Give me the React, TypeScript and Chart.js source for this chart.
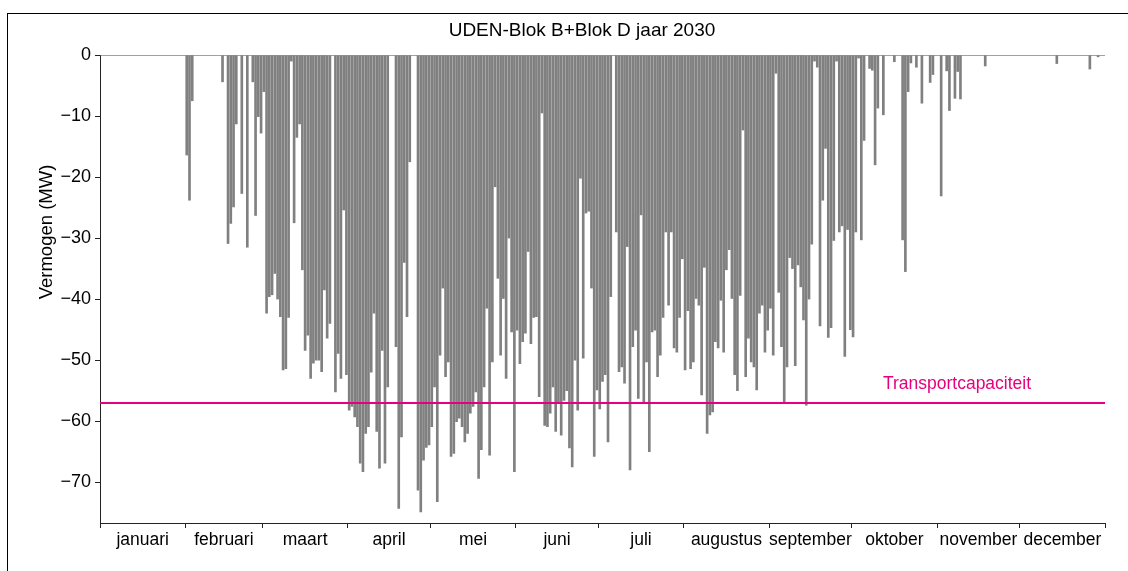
import React, { useEffect, useRef } from "react";
import { Chart, registerables } from "chart.js";

Chart.register(...registerables);

const TITLE = "UDEN-Blok B+Blok D jaar 2030";
const Y_LABEL = "Vermogen (MW)";
const TRANSPORT_LABEL = "Transportcapaciteit";
const TRANSPORT_CAPACITY = -57.05;

const MONTHS = ["januari", "februari", "maart", "april", "mei", "juni", "juli", "augustus", "september", "oktober", "november", "december"];
const MONTH_DAYS = [31, 28, 31, 30, 31, 30, 31, 31, 30, 31, 30, 31];

const Y_TICKS = [0, -10, -20, -30, -40, -50, -60, -70];
const Y_MIN = -76.7;
const Y_MAX = 0;

// Daily peak (most negative) power in MW
const januari = [0, 0, 0, 0, 0, 0, 0, 0, 0, 0, 0, 0, 0, 0, 0, 0, 0, 0, 0, 0, 0, 0, 0, 0, 0, 0, 0, 0, 0, 0, 0];
const februari = [-16.4, -23.8, -7.5, 0, 0, 0, 0, 0, 0, 0, 0, 0, 0, -4.4, 0, -30.9, -27.6, -24.9, -11.3, 0, -22.7, 0, -31.5, 0, -4.4, -26.3, -10.1, -12.8];
const maart = [-6, -42.3, -39.6, -39.3, -35.8, -40, -42.9, -51.6, -51.4, -43, -1, -27.5, -13.5, -11.3, -35.2, -48.4, -45.9, -53, -50.5, -50, -50, -51.9, -38.5, -46.4, -44, 0, -55.2, -48.9, -53, -25.4, -52.4];
const april = [-58.2, -57.6, -59.3, -60.9, -66.9, -68.3, -62, -60.9, -52, -42.3, -61.7, -67.7, -48.4, -66.9, -54.4, 0, 0, -47.8, -74.3, -62.6, -34, -42.9, -17.5, 0, 0, -71.3, -74.9, -66.4, -64.3, -63.9];
const mei = [-60.9, -54.4, -73.2, -49.2, -38.2, -52.7, -50.3, -65.8, -65.3, -60.1, -59.5, -60.9, -63.4, -62, -58.7, -57.6, -55.2, -69.4, -64.7, -54.4, -41.5, -65.6, -50.3, -21.6, -36.6, -49.2, -39.9, -53, -30, -45.4, -68.3];
const juni = [-45.1, -50.6, -47, -45.6, -32.2, -47.3, -43, -42.9, -56, -9.5, -60.7, -60.9, -58.7, -54.4, -61.7, -57.1, -62.3, -56.6, -55, -64.4, -67.5, -50, -58.2, -20.2, -49.7, -25.9, -25.6, -38.2, -65.8, -54.9];
const juli = [-58, -53.5, -52.4, -63.4, -39.6, 0, -29, -51.9, -51.1, -53.8, -31.4, -68, -47.8, -45.1, -56.3, -26.2, -56.8, -50.3, -65, -45.4, -45.1, -52.7, -49.2, -43, -29, -41, -29, -48, -48.7, -43, -33.4];
const augustus = [-51.6, -41.9, -51.4, -50.3, -39.9, -41, -55.7, -34.8, -62, -59, -58.5, -47, -48, -40.2, -48.7, -35.2, -31.9, -39.9, -52.4, -55, -39.4, -12.3, -52.7, -46.4, -50.3, -51.1, -54.9, -42.3, -41, -48.7, -45.1];
const september = [-41.5, -49.2, -3, -38.9, -47.8, -56.8, -51.1, -33.2, -35, -50.9, -34.4, -38, -43.4, -57.4, -40, -31, -1, -2, -44.4, -23.8, -15.3, -46.3, -44.7, -30.4, -1, -29, -28, -49.4, -28.6, -45];
const oktober = [-46.2, -29, -0.5, -30.3, -14, 0, -2.2, -2.5, -18, -8.7, 0, -9.8, 0, 0, 0, -1.1, 0, 0, -30.3, -35.5, -6, -1.3, 0, -2, 0, -7.9, 0, 0, -4.5, -3.2, 0];
const november = [0, -23.1, 0, -2.6, -9.1, 0, -7.1, -2.7, -7.2, 0, 0, 0, 0, 0, 0, 0, 0, -1.8, 0, 0, 0, 0, 0, 0, 0, 0, 0, 0, 0, 0];
const december = [0, 0, 0, 0, 0, 0, 0, 0, 0, 0, 0, 0, 0, -1.4, 0, 0, 0, 0, 0, 0, 0, 0, 0, 0, 0, -2.3, 0, 0, -0.3, 0, 0];

const MONTH_VALUES = [januari, februari, maart, april, mei, juni, juli, augustus, september, oktober, november, december];

const FONT = '"Liberation Sans", Arial, Helvetica, sans-serif';
const PINK = "#e6007e";
const BAR_GRAY = "#808080";
const AXIS_COLOR = "#222222";

export default function App() {
  const canvasRef = useRef<HTMLCanvasElement | null>(null);

  useEffect(() => {
    const canvas = canvasRef.current;
    if (!canvas) return;

    const daily: number[] = ([] as number[]).concat(...MONTH_VALUES);
    const points = daily.map((v, i) => ({ x: i + 0.5, y: v }));

    const boundaries: number[] = [0];
    MONTH_DAYS.forEach((d) => boundaries.push(boundaries[boundaries.length - 1] + d));
    const centers = MONTH_DAYS.map((d, i) => boundaries[i] + d / 2);
    const xTickValues = [...boundaries, ...centers].sort((a, b) => a - b);
    const isBoundary = (v: number) => boundaries.some((b) => Math.abs(b - v) < 1e-6);
    const labelFor = (v: number) => {
      const idx = centers.findIndex((c) => Math.abs(c - v) < 1e-6);
      return idx >= 0 ? MONTHS[idx] : "";
    };

    const overlay = {
      id: "overlay",
      afterDatasetsDraw(chart: any) {
        const { ctx, chartArea, scales } = chart;
        const yPix = scales.y.getPixelForValue(TRANSPORT_CAPACITY);
        ctx.save();
        ctx.strokeStyle = PINK;
        ctx.lineWidth = 2;
        ctx.beginPath();
        ctx.moveTo(chartArea.left, yPix);
        ctx.lineTo(chartArea.right, yPix);
        ctx.stroke();

        ctx.fillStyle = PINK;
        ctx.font = `17.5px ${FONT}`;
        ctx.textAlign = "center";
        ctx.textBaseline = "middle";
        ctx.fillText(TRANSPORT_LABEL, 957, yPix - 19);

        ctx.fillStyle = "#000";
        ctx.font = `19px ${FONT}`;
        ctx.fillText(TITLE, 582, 31);

        ctx.translate(47, 232);
        ctx.rotate(-Math.PI / 2);
        ctx.font = `18.5px ${FONT}`;
        ctx.fillText(Y_LABEL, 0, 0);
        ctx.restore();
      },
    };

    const chart = new Chart(canvas, {
      type: "bar",
      data: {
        datasets: [
          {
            data: points as any,
            backgroundColor: BAR_GRAY,
            borderWidth: 0,
            barThickness: 2,
          },
        ],
      },
      options: {
        animation: false,
        responsive: false,
        parsing: { xAxisKey: "x", yAxisKey: "y" } as any,
        layout: { padding: { top: 55, right: 23, left: 0, bottom: 0 } },
        plugins: {
          legend: { display: false },
          tooltip: { enabled: false },
          title: { display: false },
        },
        scales: {
          x: {
            type: "linear",
            min: 0,
            max: 365,
            offset: false,
            afterBuildTicks: (s: any) => {
              s.ticks = xTickValues.map((v) => ({ value: v }));
            },
            afterFit: (s: any) => {
              s.height = 48;
            },
            ticks: {
              autoSkip: false,
              maxRotation: 0,
              minRotation: 0,
              padding: 2,
              color: "#000",
              font: { family: FONT, size: 17.5 },
              callback: (v: any) => labelFor(Number(v)),
            },
            grid: {
              offset: false,
              drawOnChartArea: false,
              drawTicks: true,
              tickLength: 5,
              tickWidth: 1,
              color: "rgba(0,0,0,0)",
              tickColor: (ctx: any) => (ctx.tick && isBoundary(ctx.tick.value) ? AXIS_COLOR : "rgba(0,0,0,0)"),
            },
            border: { display: true, color: AXIS_COLOR, width: 1 },
          },
          y: {
            type: "linear",
            min: Y_MIN,
            max: Y_MAX,
            afterBuildTicks: (s: any) => {
              s.ticks = Y_TICKS.map((v) => ({ value: v }));
            },
            afterFit: (s: any) => {
              s.width = 100;
            },
            ticks: {
              padding: 4,
              color: "#000",
              font: { family: FONT, size: 18 },
              callback: (v: any) => {
                const n = Number(v);
                return n < 0 ? "\u2212" + Math.abs(n) : String(n);
              },
            },
            grid: {
              drawOnChartArea: true,
              drawTicks: true,
              tickLength: 5,
              color: (ctx: any) => (ctx.tick && ctx.tick.value === 0 ? "#b0b0b0" : "rgba(0,0,0,0)"),
              tickColor: AXIS_COLOR,
            },
            border: { display: true, color: AXIS_COLOR, width: 1 },
          },
        },
      },
      plugins: [overlay],
    });

    return () => chart.destroy();
  }, []);

  return (
    <div style={{ position: "fixed", left: 0, top: 0, width: 1128, height: 571, overflow: "hidden", background: "#fff" }}>
      <div
        style={{
          position: "absolute",
          left: 6.5,
          top: 13,
          width: 1300,
          height: 800,
          border: "1.5px solid #000",
          boxSizing: "border-box",
        }}
      />
      <canvas
        ref={canvasRef}
        width={1128}
        height={571}
        style={{ position: "absolute", left: 0, top: 0, width: 1128, height: 571 }}
      />
    </div>
  );
}
